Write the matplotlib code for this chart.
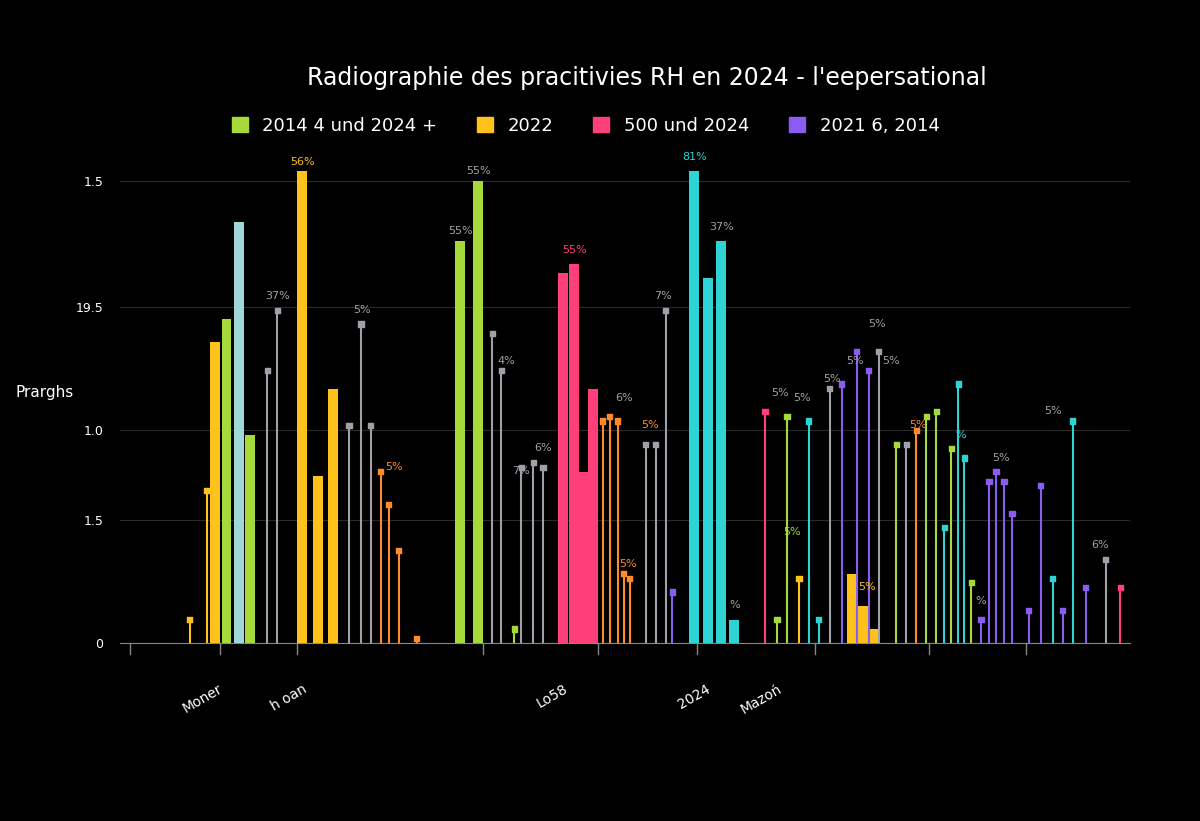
import matplotlib.pyplot as plt

# couleurs
GREEN = '#a6d93a'
YELLOW = '#ffc21a'
PINK = '#ff3f7a'
PURPLE = '#8a5cf0'
TEAL = '#2ed3d3'
ORANGE = '#ff8a2a'
GREY = '#a0a0a8'
LTEAL = '#9fd8d8'

# barres épaisses
bar_x = [215, 227, 240, 251, 303, 319, 334, 462, 480, 565, 576, 585, 595,
         697, 711, 724, 737, 855, 866, 878]
bar_h = [0.65, 0.70, 0.91, 0.45, 1.02, 0.36, 0.55, 0.87, 1.00, 0.80, 0.82, 0.37, 0.55,
         1.02, 0.79, 0.87, 0.05, 0.15, 0.08, 0.03]
bar_c = [YELLOW, GREEN, LTEAL, GREEN, YELLOW, YELLOW, YELLOW, GREEN, GREEN, PINK, PINK, PINK, PINK,
         TEAL, TEAL, TEAL, TEAL, YELLOW, YELLOW, YELLOW]

# tiges fines avec marqueurs
stem_x = [190, 207, 268, 278, 350, 362, 372, 382, 390, 400, 418, 494, 503, 516, 523, 535, 545,
          605, 612, 620, 626, 632, 648, 658, 668, 675, 768, 780, 790, 802, 812, 822, 833, 845,
          860, 872, 882, 900, 910, 920, 930, 940, 948, 955, 962, 968, 975, 985, 993, 1000, 1008,
          1016, 1033, 1045, 1057, 1067, 1077, 1090, 1110, 1125]
stem_h = [0.05, 0.33, 0.59, 0.72, 0.47, 0.69, 0.47, 0.37, 0.30, 0.20, 0.01, 0.67, 0.59, 0.03, 0.38,
          0.39, 0.38, 0.48, 0.49, 0.48, 0.15, 0.14, 0.43, 0.43, 0.72, 0.11, 0.50, 0.05, 0.49, 0.14,
          0.48, 0.05, 0.55, 0.56, 0.63, 0.59, 0.63, 0.43, 0.43, 0.46, 0.49, 0.50, 0.25, 0.42, 0.56,
          0.40, 0.13, 0.05, 0.35, 0.37, 0.35, 0.28, 0.07, 0.34, 0.14, 0.07, 0.48, 0.12, 0.18, 0.12]
stem_c = [YELLOW, YELLOW, GREY, GREY, GREY, GREY, GREY, ORANGE, ORANGE, ORANGE, ORANGE, GREY, GREY,
          GREEN, GREY, GREY, GREY, ORANGE, ORANGE, ORANGE, ORANGE, ORANGE, GREY, GREY, GREY, PURPLE,
          PINK, GREEN, GREEN, YELLOW, TEAL, TEAL, GREY, PURPLE, PURPLE, PURPLE, GREY, GREEN, GREY,
          ORANGE, GREEN, GREEN, TEAL, GREEN, TEAL, TEAL, GREEN, PURPLE, PURPLE, PURPLE, PURPLE,
          PURPLE, PURPLE, PURPLE, TEAL, PURPLE, TEAL, PURPLE, GREY, PINK]

top_labels = [(303, 1.02, '56%', YELLOW), (480, 1.0, '55%', GREY), (462, 0.87, '55%', GREY),
              (577, 0.83, '55%', PINK), (697, 1.03, '81%', TEAL), (724, 0.88, '37%', GREY),
              (278, 0.73, '37%', GREY), (363, 0.70, '5%', GREY), (665, 0.73, '7%', GREY),
              (508, 0.59, '4%', GREY), (523, 0.35, '7%', GREY), (545, 0.40, '6%', GREY),
              (395, 0.36, '5%', ORANGE), (626, 0.51, '6%', GREY), (652, 0.45, '5%', ORANGE),
              (630, 0.15, '5%', ORANGE), (783, 0.52, '5%', GREY), (805, 0.51, '5%', GREY),
              (835, 0.55, '5%', GREY), (858, 0.59, '5%', GREY), (880, 0.67, '5%', GREY),
              (895, 0.59, '5%', GREY), (922, 0.45, '5%', ORANGE), (965, 0.43, '%', TEAL),
              (1005, 0.38, '5%', GREY), (1057, 0.48, '5%', GREY), (1105, 0.19, '6%', GREY),
              (870, 0.10, '5%', YELLOW), (795, 0.22, '5%', GREEN), (985, 0.07, '%', GREY),
              (737, 0.06, '%', GREY)]

ytick_pos = [0, 0.266, 0.461, 0.727, 1.0]
ytick_lab = ['0', '1.5', '1.0', '19.5', '1.5']
xtick_pos = [225, 310, 572, 716, 787]
xtick_lab = ['Moner', 'h oan', 'Lo58', '2024', 'Mazoń']

legend_lab = ['2014 4 und 2024 +', '2022', '500 und 2024', '2021 6, 2014']
legend_col = [GREEN, YELLOW, PINK, PURPLE]

fig = plt.figure(figsize=(12, 8.21), dpi=100, facecolor='black')
ax = fig.add_axes([0.1, 0.217, 0.842, 0.591], facecolor='black')

ax.bar(bar_x, bar_h, width=10, color=bar_c, zorder=3)
ax.vlines(stem_x, 0, stem_h, colors=stem_c, linewidth=1.5, zorder=3)
ax.scatter(stem_x, stem_h, c=stem_c, marker='s', s=14, zorder=4)

for x, y, t, c in top_labels:
    ax.text(x, y + 0.01, t, color=c, fontsize=8, ha='center', va='bottom', zorder=5)

ax.set_xlim(120, 1135)
ax.set_ylim(0, 1.05)
ax.set_yticks(ytick_pos)
ax.set_yticklabels(ytick_lab, color='white', fontsize=9)
ax.set_xticks(xtick_pos)
ax.set_xticklabels(xtick_lab, color='white', fontsize=10, rotation=30, ha='right')
ax.tick_params(axis='x', length=0, pad=28)
ax.tick_params(axis='y', length=0, pad=12)
for p in [130, 220, 298, 485, 600, 700, 818, 933, 1030]:
    ax.plot([p, p], [0, -0.025], color='#888888', linewidth=1, clip_on=False)
ax.grid(axis='y', color='#2a2a2a', linewidth=0.8, zorder=0)
for s in ['top', 'right', 'left']:
    ax.spines[s].set_visible(False)
ax.spines['bottom'].set_color('#888888')
ax.set_ylabel('Prarghs', color='white', fontsize=11, rotation=0, labelpad=22)

handles = [plt.Rectangle((0, 0), 1, 1, color=c) for c in legend_col]
fig.legend(handles, legend_lab, loc='center', bbox_to_anchor=(0.488, 0.847), ncol=4,
           frameon=False, labelcolor='white', fontsize=13, handlelength=0.9, handleheight=0.9,
           columnspacing=2.2)
fig.text(0.539, 0.905, "Radiographie des pracitivies RH en 2024 - l'eepersational",
         color='white', fontsize=17, ha='center', va='center')

fig.savefig('out.png', dpi=100, facecolor='black')
